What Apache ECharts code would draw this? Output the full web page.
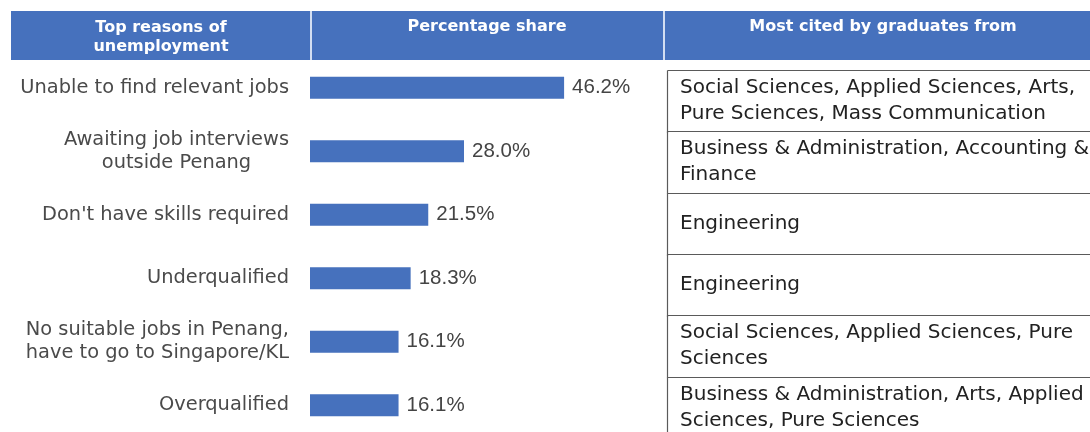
<!DOCTYPE html>
<html>
<head>
<meta charset="utf-8">
<script src="https://cdn.jsdelivr.net/npm/echarts@6/dist/echarts.min.js"></script>
<style>
  html, body { margin: 0; padding: 0; background: #ffffff; }
  #chart { width: 1090px; height: 432px; }
</style>
</head>
<body>
<div id="chart"></div>
<script>
// Survey results: top reasons of unemployment among graduates
const reasons = [
  'Unable to find relevant jobs',
  'Awaiting job interviews\noutside Penang',
  "Don't have skills required",
  'Underqualified',
  'No suitable jobs in Penang,\nhave to go to Singapore/KL',
  'Overqualified'
];
const shares = [46.2, 28.0, 21.5, 18.3, 16.1, 16.1];
const graduates = [
  'Social Sciences, Applied Sciences, Arts,\nPure Sciences, Mass Communication',
  'Business & Administration, Accounting &\nFinance',
  'Engineering',
  'Engineering',
  'Social Sciences, Applied Sciences, Pure\nSciences',
  'Business & Administration, Arts, Applied\nSciences, Pure Sciences'
];
const headers = ['Top reasons of\nunemployment', 'Percentage share', 'Most cited by graduates from'];

const BLUE = '#4671bd';
const SANS = '"DejaVu Sans", sans-serif';

const chart = echarts.init(document.getElementById('chart'), null, { renderer: 'canvas' });

chart.setOption({
  backgroundColor: '#ffffff',
  animation: false,
  graphic: [
    { type: 'rect', shape: { x: 11, y: 11, width: 1090, height: 49 }, style: { fill: BLUE } },
    { type: 'rect', shape: { x: 310, y: 11, width: 2, height: 49 }, style: { fill: '#d3def2' } },
    { type: 'rect', shape: { x: 663, y: 11, width: 2, height: 49 }, style: { fill: '#d3def2' } },
    {
      type: 'text', x: 161, y: 37,
      style: { text: headers[0], fill: '#ffffff', font: 'bold 16px ' + SANS, lineHeight: 19,
               align: 'center', verticalAlign: 'middle' }
    },
    {
      type: 'text', x: 487, y: 27,
      style: { text: headers[1], fill: '#ffffff', font: 'bold 16px ' + SANS,
               align: 'center', verticalAlign: 'middle' }
    },
    {
      type: 'text', x: 883, y: 27,
      style: { text: headers[2], fill: '#ffffff', font: 'bold 16px ' + SANS,
               align: 'center', verticalAlign: 'middle' }
    }
  ],
  grid: [
    { left: 310, width: 330, top: 56, height: 381, containLabel: false, outerBoundsMode: 'none' },
    { left: 667, width: 430, top: 70, height: 368, containLabel: false, outerBoundsMode: 'none' }
  ],
  xAxis: [
    { gridIndex: 0, type: 'value', min: 0, max: 60, show: false },
    { gridIndex: 1, type: 'value', min: 0, max: 1, show: false }
  ],
  yAxis: [
    {
      gridIndex: 0,
      type: 'category',
      inverse: true,
      data: reasons,
      axisLine: { show: false },
      axisTick: { show: false },
      splitLine: { show: false },
      axisLabel: {
        margin: 21,
        align: 'right',
        formatter: v => v.split('\n').map(s => '{c|' + s + '}').join('\n'),
        rich: {
          c: { align: 'center', fontSize: 19.4, fontFamily: SANS, color: '#4a4a4a', lineHeight: 23 }
        }
      }
    },
    {
      gridIndex: 1,
      type: 'category',
      inverse: true,
      data: graduates,
      show: false
    }
  ],
  series: [
    {
      type: 'bar',
      xAxisIndex: 0,
      yAxisIndex: 0,
      data: shares,
      barWidth: 22,
      itemStyle: { color: BLUE },
      label: {
        show: true,
        position: 'right',
        distance: 8,
        formatter: p => p.value.toFixed(1) + '%',
        fontFamily: '"Liberation Sans", Arial, sans-serif',
        fontSize: 20.5,
        color: '#444444'
      }
    },
    {
      type: 'custom',
      xAxisIndex: 1,
      yAxisIndex: 1,
      data: graduates.map((g, i) => [0, i]),
      encode: { x: 0, y: 1 },
      clip: false,
      renderItem: (params, api) => {
        const idx = api.value(1);
        const c = api.coord([0, idx]);
        const band = api.size([0, 1])[1];
        const top = Math.round(c[1] - band / 2) + 0.5;
        const x0 = Math.round(c[0]) + 0.5;
        const right = params.coordSys.x + params.coordSys.width;
        const stroke = { stroke: '#5a5a5a', lineWidth: 1.2 };
        return {
          type: 'group',
          children: [
            { type: 'line', shape: { x1: x0, y1: top, x2: x0, y2: top + band + 1 }, style: stroke },
            { type: 'line', shape: { x1: x0, y1: top, x2: right, y2: top }, style: stroke },
            {
              type: 'text',
              style: {
                x: x0 + 12.5, y: c[1],
                text: graduates[idx],
                font: '20px ' + SANS,
                fill: '#222222',
                lineHeight: 26,
                align: 'left',
                verticalAlign: 'middle'
              }
            }
          ]
        };
      }
    }
  ]
});
</script>
</body>
</html>
